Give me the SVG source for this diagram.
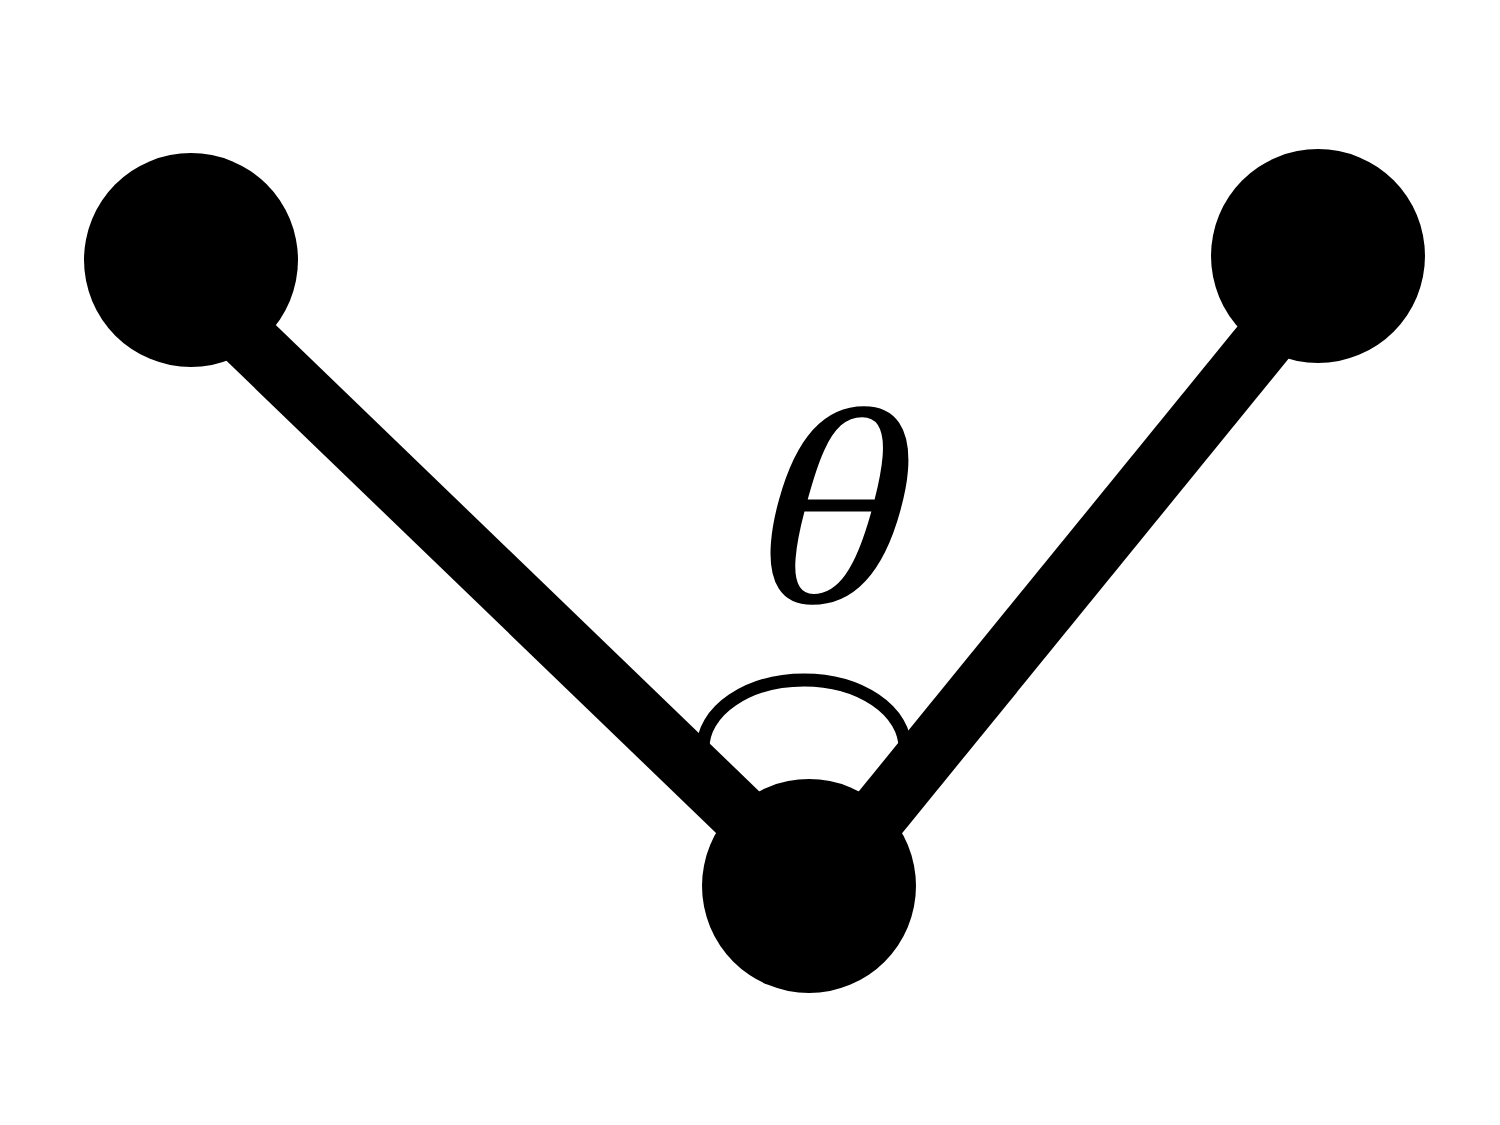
<svg xmlns="http://www.w3.org/2000/svg" width="1500" height="1125" viewBox="0 0 1500 1125">
<style>
.edge{stroke:#000;stroke-width:60;fill:none}
.node{fill:#000}
.arc{stroke:#000;stroke-width:13;fill:none}
.lbl{font-family:"Liberation Serif","DejaVu Serif",serif;font-style:italic;font-size:280px;fill:#000}
</style>
<rect width="1500" height="1125" fill="#fff"/>
<g id="angle-arc"><path class="arc" d="M703,748 A101,68 0 0 1 905,748"/></g>
<g id="connectors">
<line class="edge" x1="191" y1="285" x2="809" y2="881"/>
<line class="edge" x1="1318" y1="275" x2="809" y2="900"/>
</g>
<g id="node-left"><circle class="node" cx="191" cy="260" r="107"/></g>
<g id="node-right"><circle class="node" cx="1318" cy="256" r="107"/></g>
<g id="node-bottom"><circle class="node" cx="809" cy="886" r="107"/></g>
<g id="label"><text class="lbl" transform="translate(828,602) scale(1.12,1) skewX(-4)" text-anchor="middle">θ</text></g>
</svg>
